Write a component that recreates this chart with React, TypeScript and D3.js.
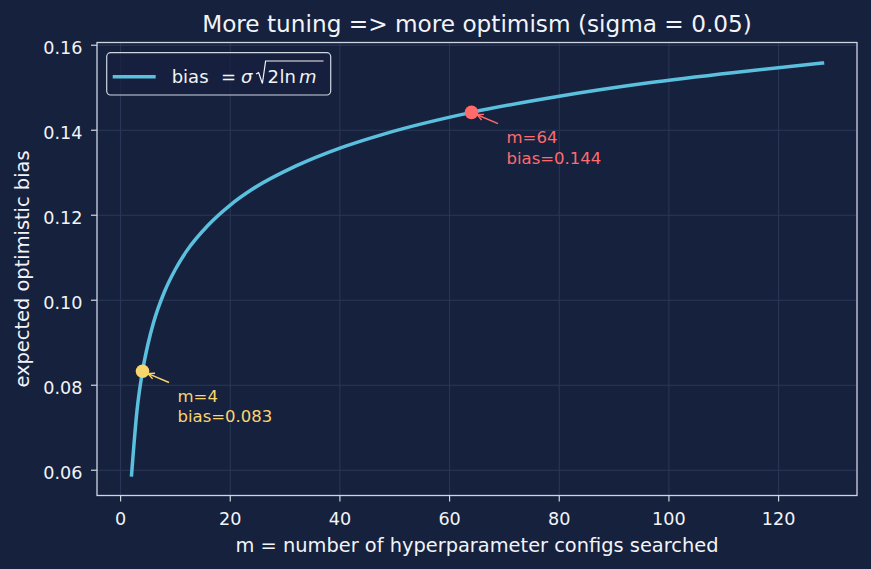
import { scaleLinear, line, curveMonotoneX, extent } from 'd3'

// m = number of configs searched, bias
const mValues = [2, 3, 4, 5, 6, 8, 10, 12, 16, 20, 24, 32, 40, 48, 64, 80, 96, 112, 128]
const biasValues = [
	0.0589, 0.0741, 0.0833, 0.0897, 0.0947, 0.102, 0.1073, 0.1115, 0.1177, 0.1224, 0.1261,
	0.1316, 0.1358, 0.1391, 0.1442, 0.148, 0.1511, 0.1536, 0.1558,
]

// highlighted points
const markM = [4, 64]
const markBias = [0.0833, 0.1442]
const markText = ['bias=0.083', 'bias=0.144']
const markColors = ['#f9d56e', '#ff6b6b']

const xTicks = [0, 20, 40, 60, 80, 100, 120]
const yTicks = [0.06, 0.08, 0.1, 0.12, 0.14, 0.16]

const W = 871
const H = 569
const margin = { top: 42.5, right: 14, bottom: 73.5, left: 97 }

const bg = '#16213e'
const fg = '#f2f4f8'
const spine = '#cfd6e2'
const grid = '#2b3858'
const curveColor = '#5bc0de'
const font = '"DejaVu Sans", sans-serif'

export default function App() {
	const [x0, x1] = extent(mValues) as [number, number]
	const [y0, y1] = extent(biasValues) as [number, number]
	const px = (x1 - x0) * 0.05
	const py = (y1 - y0) * 0.05

	const x = scaleLinear()
		.domain([x0 - px, x1 + px])
		.range([margin.left, W - margin.right])
	const y = scaleLinear()
		.domain([y0 - py, y1 + py])
		.range([H - margin.bottom, margin.top])

	const pts = mValues.map((m, i) => [m, biasValues[i]] as [number, number])
	const path = line<[number, number]>()
		.x((d) => x(d[0]))
		.y((d) => y(d[1]))
		.curve(curveMonotoneX)(pts)

	const left = margin.left
	const right = W - margin.right
	const top = margin.top
	const bottom = H - margin.bottom
	const cx = (left + right) / 2

	return (
		<>
			<style>{`body{margin:0;background:${bg}}`}</style>
			<svg width={W} height={H} style={{ display: 'block', background: bg }} fontFamily={font}>
				<rect width={W} height={H} fill={bg} />

				{/* grid */}
				{xTicks.map((t) => (
					<line key={'gx' + t} x1={x(t)} x2={x(t)} y1={top} y2={bottom} stroke={grid} strokeWidth={1} />
				))}
				{yTicks.map((t) => (
					<line key={'gy' + t} x1={left} x2={right} y1={y(t)} y2={y(t)} stroke={grid} strokeWidth={1} />
				))}

				{/* curve */}
				<path d={path ?? ''} fill='none' stroke={curveColor} strokeWidth={3.5} strokeLinecap='square' />

				{/* annotations */}
				{markM.map((m, i) => {
					const mx = x(m)
					const my = y(markBias[i])
					const c = markColors[i]
					const tx = mx + 26.5
					const ty = my + 11.3
					const dx = tx - mx
					const dy = ty - my
					const len = Math.hypot(dx, dy)
					const ux = dx / len
					const uy = dy / len
					const hx = mx + ux * 6
					const hy = my + uy * 6
					const ah = 7
					const ang = Math.atan2(uy, ux)
					const a1 = ang + 0.45
					const a2 = ang - 0.45
					return (
						<g key={'mk' + m}>
							<line x1={tx} y1={ty} x2={hx} y2={hy} stroke={c} strokeWidth={1.4} />
							<polyline
								points={`${hx + Math.cos(a1) * ah},${hy + Math.sin(a1) * ah} ${hx},${hy} ${hx + Math.cos(a2) * ah},${hy + Math.sin(a2) * ah}`}
								fill='none'
								stroke={c}
								strokeWidth={1.4}
							/>
							<circle cx={mx} cy={my} r={6.8} fill={c} />
							<text x={mx + 35} y={my + 31} fill={c} fontSize={16.5}>
								m={m}
							</text>
							<text x={mx + 35} y={my + 51.2} fill={c} fontSize={16.5}>
								{markText[i]}
							</text>
						</g>
					)
				})}

				{/* spines */}
				<rect x={left} y={top} width={right - left} height={bottom - top} fill='none' stroke={spine} strokeWidth={1.3} />

				{/* x axis */}
				{xTicks.map((t) => (
					<g key={'xt' + t}>
						<line x1={x(t)} x2={x(t)} y1={bottom} y2={bottom + 6} stroke={spine} strokeWidth={1.2} />
						<text x={x(t)} y={bottom + 29.5} fill={fg} fontSize={17.6} textAnchor='middle'>
							{t}
						</text>
					</g>
				))}
				{/* y axis */}
				{yTicks.map((t) => (
					<g key={'yt' + t}>
						<line x1={left - 6} x2={left} y1={y(t)} y2={y(t)} stroke={spine} strokeWidth={1.2} />
						<text x={left - 14.5} y={y(t) + 9} fill={fg} fontSize={17.6} textAnchor='end'>
							{t.toFixed(2)}
						</text>
					</g>
				))}

				<text x={cx} y={551.7} fill={fg} fontSize={19.4} textAnchor='middle'>
					m = number of hyperparameter configs searched
				</text>
				<text
					transform={`translate(28.5,${(top + bottom) / 2}) rotate(-90)`}
					fill={fg}
					fontSize={19.4}
					textAnchor='middle'
				>
					expected optimistic bias
				</text>
				<text x={cx} y={31.7} fill={fg} fontSize={23.2} textAnchor='middle'>
					More tuning =&gt; more optimism (sigma = 0.05)
				</text>

				{/* legend */}
				<g>
					<rect x={106.7} y={52.7} width={224} height={42.3} rx={4} fill={bg} fillOpacity={0.8} stroke={spine} strokeWidth={1.2} />
					<line x1={112.7} x2={155.7} y1={76.7} y2={76.7} stroke={curveColor} strokeWidth={3.5} />
					<text y={82.7} fill={fg} fontSize={18}>
						<tspan x={171.7}>bias</tspan>
						<tspan x={221}>=</tspan>
						<tspan x={241} fontStyle='italic'>σ</tspan>
						<tspan x={267.5}>2</tspan>
						<tspan x={279.5}>ln</tspan>
						<tspan x={299} fontStyle='italic'>m</tspan>
					</text>
					{/* radical sign */}
					<path
						d='M256 74 L258.6 72.6 L262.4 83.5 L265.6 61 L323.5 61'
						fill='none'
						stroke={fg}
						strokeWidth={1.2}
						strokeLinejoin='miter'
					/>
				</g>
			</svg>
		</>
	)
}
